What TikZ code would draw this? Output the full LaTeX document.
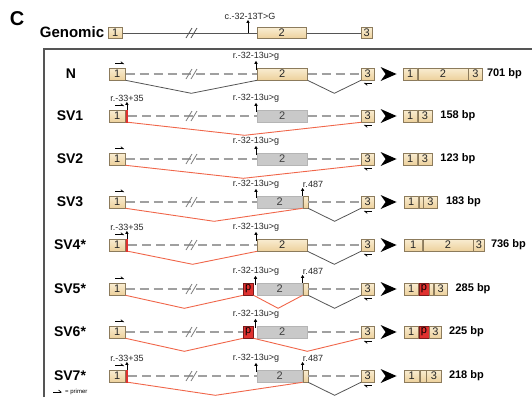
\documentclass[tikz,border=0pt]{standalone}
\usepackage{fontspec}
\setmainfont{Liberation Sans}
\usetikzlibrary{arrows.meta,calc}
\definecolor{extop}{HTML}{F9EDD2}
\definecolor{exbot}{HTML}{EDD19C}
\definecolor{exdraw}{HTML}{8C7B5C}
\definecolor{grfill}{HTML}{C9C9C9}
\definecolor{grdraw}{HTML}{B5B5B5}
\definecolor{pfill}{HTML}{E0312F}
\definecolor{pdraw}{HTML}{7A1A1A}
\definecolor{rlinec}{HTML}{F0664A}
\definecolor{klinec}{HTML}{555555}
\definecolor{dashc}{HTML}{A0A0A0}
\newcommand\exfont{\fontsize{11}{11}\selectfont}
\newcommand\vsplice[3]{\draw[#1] (#2.south east) -- ($(#2.south east)!0.5!(#3.south west)+(0,13)$) -- (#3.south west);}
\newcommand\fwd[1]{\draw[primer] ($(#1.north)+(-2,-4)$) -- ++(9,0);}
\newcommand\rev[1]{\draw[primer] ($(#1.south)+(4,3)$) -- ++(-8,0);}
\newcommand\bigarrow[1]{\fill[black] ($(#1.east)+(6,-7)$) -- ++(16,7) -- ++(-16,7) -- ++(5,-7) -- cycle;}
\newcommand\mutmark[4]{\coordinate (#1) at #2; \node[lab] (#1l) at #3 {#4}; \draw[marr] (#1) -- (#1 |- #1l.south);}
\newcommand\slashes[2]{\draw[#2, line width=0.8pt] (186,#1+5) -- (192,#1-5) (191,#1+5) -- (197,#1-5);}
\begin{document}
\begin{tikzpicture}[x=1pt,y=-1pt,
  exb/.style={draw=exdraw, top color=extop, bottom color=exbot, minimum height=12pt, inner sep=0pt, anchor=west, font=\exfont, line width=0.6pt, text=black!85},
  exg/.style={exb, top color=grfill, bottom color=grfill, draw=grdraw, text=black!75},
  exp/.style={exb, top color=pfill, bottom color=pfill, draw=pdraw, text=black},
  redbar/.style={exb, top color=pfill, bottom color=pfill, draw=none, minimum width=2pt},
  dline/.style={dashc, line width=1.1pt, dash pattern=on 9pt off 5pt},
  rl/.style={rlinec, line width=0.9pt},
  kl/.style={klinec, line width=0.8pt},
  marr/.style={-{Triangle[length=3pt,width=3.2pt]}, line width=0.8pt, black},
  primer/.style={-{Straight Barb[harpoon,length=2.5pt,width=4pt]}, line width=0.7pt, black},
  lab/.style={font=\fontsize{9}{9}\selectfont, inner sep=0.5pt, text=black!85},
  bp/.style={font=\bfseries\fontsize{11}{11}\selectfont, anchor=west, inner sep=0pt},
  rowlab/.style={font=\bfseries\fontsize{14}{14}\selectfont}
]
\useasboundingbox (0,0) rectangle (532,397);
\node[font=\bfseries\fontsize{20}{20}\selectfont] (C) at (17,19) {C};
% genomic
\node[font=\bfseries\fontsize{15}{15}\selectfont] (gen) at (72,32) {Genomic};
\node[exb, minimum width=14pt, minimum height=11pt] (G1) at (108,33) {1};
\node[exb, minimum width=49pt, minimum height=11pt] (G2) at (257,33) {2};
\node[exb, minimum width=11pt, minimum height=11pt] (G3) at (361,33) {3};
\draw[kl] (G1.east) -- (G2.west);
\draw[kl] (G2.east) -- (G3.west);
\slashes{33}{klinec}
\mutmark{gm}{(248,33)}{(250,16)}{c.-32-13T>G}
% frame
\draw[klinec, line width=1.2pt] (44,397) -- (44,49) -- (532,49);
% N
\node[rowlab] (lN) at (71,74) {N};
\node[exb, minimum width=16pt] (N1) at (109,74) {1};
\node[exb, minimum width=50pt] (N2) at (257,74) {2};
\node[exb, minimum width=13pt] (N3) at (361,74) {3};
\draw[dline] (N1.east) -- (N2.west);
\draw[dline] (N2.east) -- (N3.west);
\slashes{74}{dashc!80!black}
\mutmark{Nm}{($(N2.west)+(-1,-4)$)}{(256,56)}{r.-32-13u>g}
\fwd{N1} \rev{N3}
\vsplice{kl}{N1}{N2}
\vsplice{kl}{N2}{N3}
\bigarrow{N3}
\node[exb, minimum width=14pt] (PN1) at (403,74) {1};
\node[exb, minimum width=50pt] (PN2) at (PN1.east) {2};
\node[exb, minimum width=14pt] (PN3) at (PN2.east) {3};
\node[bp] (bN) at ($(PN3.east)+(4,0)$) {701 bp};
% SV1
\node[rowlab] (l1) at (70,116) {SV1};
\node[exb, minimum width=16pt] (A1) at (109,116) {1};
\node[redbar] (A1r) at (A1.east) {};
\node[exg, minimum width=50pt] (A2) at (257,116) {2};
\node[exb, minimum width=13pt] (A3) at (361,116) {3};
\draw[dline] (A1r.east) -- (A2.west);
\draw[dline] (A2.east) -- (A3.west);
\slashes{116}{dashc!80!black}
\mutmark{A1m}{(A1r.north)}{(127,98)}{r.-33+35}
\mutmark{A2m}{($(A2.west)+(-1,-4)$)}{(256,98)}{r.-32-13u>g}
\fwd{A1} \rev{A3}
\vsplice{rl}{A1r}{A3}
\bigarrow{A3}
\node[exb, minimum width=14pt] (PA1) at (403,116) {1};
\node[exb, minimum width=14pt] (PA3) at (PA1.east) {3};
\node[bp] (bA) at ($(PA3.east)+(8,0)$) {158 bp};
% SV2
\node[rowlab] (l2) at (70,159) {SV2};
\node[exb, minimum width=16pt] (B1) at (109,159) {1};
\node[exg, minimum width=50pt] (B2) at (257,159) {2};
\node[exb, minimum width=13pt] (B3) at (361,159) {3};
\draw[dline] (B1.east) -- (B2.west);
\draw[dline] (B2.east) -- (B3.west);
\slashes{159}{dashc!80!black}
\mutmark{B2m}{($(B2.west)+(-1,-4)$)}{(256,141)}{r.-32-13u>g}
\fwd{B1} \rev{B3}
\vsplice{rl}{B1}{B3}
\bigarrow{B3}
\node[exb, minimum width=14pt] (PB1) at (403,159) {1};
\node[exb, minimum width=14pt] (PB3) at (PB1.east) {3};
\node[bp] (bB) at ($(PB3.east)+(8,0)$) {123 bp};
% SV3
\node[rowlab] (l3) at (70,202) {SV3};
\node[exb, minimum width=16pt] (C1) at (109,202) {1};
\node[exg, minimum width=45pt] (C2) at (257,202) {2};
\node[exb, minimum width=5pt] (C2x) at (C2.east) {};
\node[exb, minimum width=13pt] (C3) at (361,202) {3};
\draw[dline] (C1.east) -- (C2.west);
\draw[dline] (C2x.east) -- (C3.west);
\slashes{202}{dashc!80!black}
\mutmark{C2m}{($(C2.west)+(-1,-4)$)}{(256,184)}{r.-32-13u>g}
\mutmark{C2xm}{(C2x.north west)}{(313,184)}{r.487}
\fwd{C1} \rev{C3}
\vsplice{rl}{C1}{C2x}
\vsplice{kl}{C2x}{C3}
\bigarrow{C3}
\node[exb, minimum width=14pt] (PC1) at (404,202) {1};
\node[exb, minimum width=4pt] (PC2) at (PC1.east) {};
\node[exb, minimum width=14pt] (PC3) at (PC2.east) {3};
\node[bp] (bC) at ($(PC3.east)+(8,0)$) {183 bp};
% SV4
\node[rowlab] (l4) at (70,245) {SV4*};
\node[exb, minimum width=16pt] (D1) at (109,245) {1};
\node[redbar] (D1r) at (D1.east) {};
\node[exb, minimum width=50pt] (D2) at (257,245) {2};
\node[exb, minimum width=13pt] (D3) at (361,245) {3};
\draw[dline] (D1r.east) -- (D2.west);
\draw[dline] (D2.east) -- (D3.west);
\slashes{245}{dashc!80!black}
\mutmark{D1m}{(D1r.north)}{(127,227)}{r.-33+35}
\mutmark{D2m}{($(D2.west)+(-1,-4)$)}{(256,227)}{r.-32-13u>g}
\fwd{D1} \rev{D3}
\vsplice{rl}{D1r}{D2}
\vsplice{kl}{D2}{D3}
\bigarrow{D3}
\node[exb, minimum width=18pt] (PD1) at (404,245) {1};
\node[exb, minimum width=50pt] (PD2) at (PD1.east) {2};
\node[exb, minimum width=11pt] (PD3) at (PD2.east) {3};
\node[bp] (bD) at ($(PD3.east)+(6,0)$) {736 bp};
% SV5
\node[rowlab] (l5) at (70,289) {SV5*};
\node[exb, minimum width=16pt] (E1) at (109,289) {1};
\node[exp, minimum width=10pt] (Ep) at (243,289) {p};
\node[exg, minimum width=45pt] (E2) at (257,289) {2};
\node[exb, minimum width=5pt] (E2x) at (E2.east) {};
\node[exb, minimum width=13pt] (E3) at (361,289) {3};
\draw[dline] (E1.east) -- (Ep.west);
\draw[dline] (E2x.east) -- (E3.west);
\slashes{289}{dashc!80!black}
\mutmark{E2m}{($(E2.west)+(-1.5,-4)$)}{(256,271)}{r.-32-13u>g}
\mutmark{E2xm}{(E2x.north west)}{(313,271)}{r.487}
\fwd{E1} \rev{E3}
\vsplice{rl}{E1}{Ep}
\vsplice{rl}{Ep}{E2x}
\vsplice{kl}{E2x}{E3}
\bigarrow{E3}
\node[exb, minimum width=14pt] (PE1) at (404,289) {1};
\node[exp, minimum width=10pt] (PE2) at (PE1.east) {p};
\node[exb, minimum width=4pt] (PE3) at (PE2.east) {};
\node[exb, minimum width=13pt] (PE4) at (PE3.east) {3};
\node[bp] (bE) at ($(PE4.east)+(8,0)$) {285 bp};
% SV6
\node[rowlab] (l6) at (70,332) {SV6*};
\node[exb, minimum width=16pt] (F1) at (109,332) {1};
\node[exp, minimum width=10pt] (Fp) at (243,332) {p};
\node[exg, minimum width=50pt] (F2) at (257,332) {2};
\node[exb, minimum width=13pt] (F3) at (361,332) {3};
\draw[dline] (F1.east) -- (Fp.west);
\draw[dline] (F2.east) -- (F3.west);
\slashes{332}{dashc!80!black}
\mutmark{F2m}{($(F2.west)+(-1.5,-4)$)}{(256,314)}{r.-32-13u>g}
\fwd{F1} \rev{F3}
\vsplice{rl}{F1}{Fp}
\vsplice{rl}{Fp}{F3}
\bigarrow{F3}
\node[exb, minimum width=14pt] (PF1) at (404,332) {1};
\node[exp, minimum width=10pt] (PF2) at (PF1.east) {p};
\node[exb, minimum width=12pt] (PF3) at (PF2.east) {3};
\node[bp] (bF) at ($(PF3.east)+(7,0)$) {225 bp};
% SV7
\node[rowlab] (l7) at (70,376) {SV7*};
\node[exb, minimum width=16pt] (H1) at (109,376) {1};
\node[redbar] (H1r) at (H1.east) {};
\node[exg, minimum width=45pt] (H2) at (257,376) {2};
\node[exb, minimum width=5pt] (H2x) at (H2.east) {};
\node[exb, minimum width=13pt] (H3) at (361,376) {3};
\draw[dline] (H1r.east) -- (H2.west);
\draw[dline] (H2x.east) -- (H3.west);
\slashes{376}{dashc!80!black}
\mutmark{H1m}{(H1r.north)}{(127,358)}{r.-33+35}
\mutmark{H2m}{($(H2.west)+(-1,-4)$)}{(256,358)}{r.-32-13u>g}
\mutmark{H2xm}{(H2x.north west)}{(313,358)}{r.487}
\fwd{H1} \rev{H3}
\vsplice{rl}{H1r}{H2x}
\vsplice{kl}{H2x}{H3}
\bigarrow{H3}
\node[exb, minimum width=15pt] (PH1) at (404,376) {1};
\node[exb, minimum width=6pt] (PH2) at (PH1.east) {};
\node[exb, minimum width=15pt] (PH3) at (PH2.east) {3};
\node[bp] (bH) at ($(PH3.east)+(7,0)$) {218 bp};
% legend
\coordinate (lg) at (53,392);
\draw[primer] (lg) -- ++(9,0);
\node[font=\fontsize{6}{6}\selectfont, anchor=west, inner sep=0pt] (lgt) at (65,392) {= primer};
\end{tikzpicture}
\end{document}
